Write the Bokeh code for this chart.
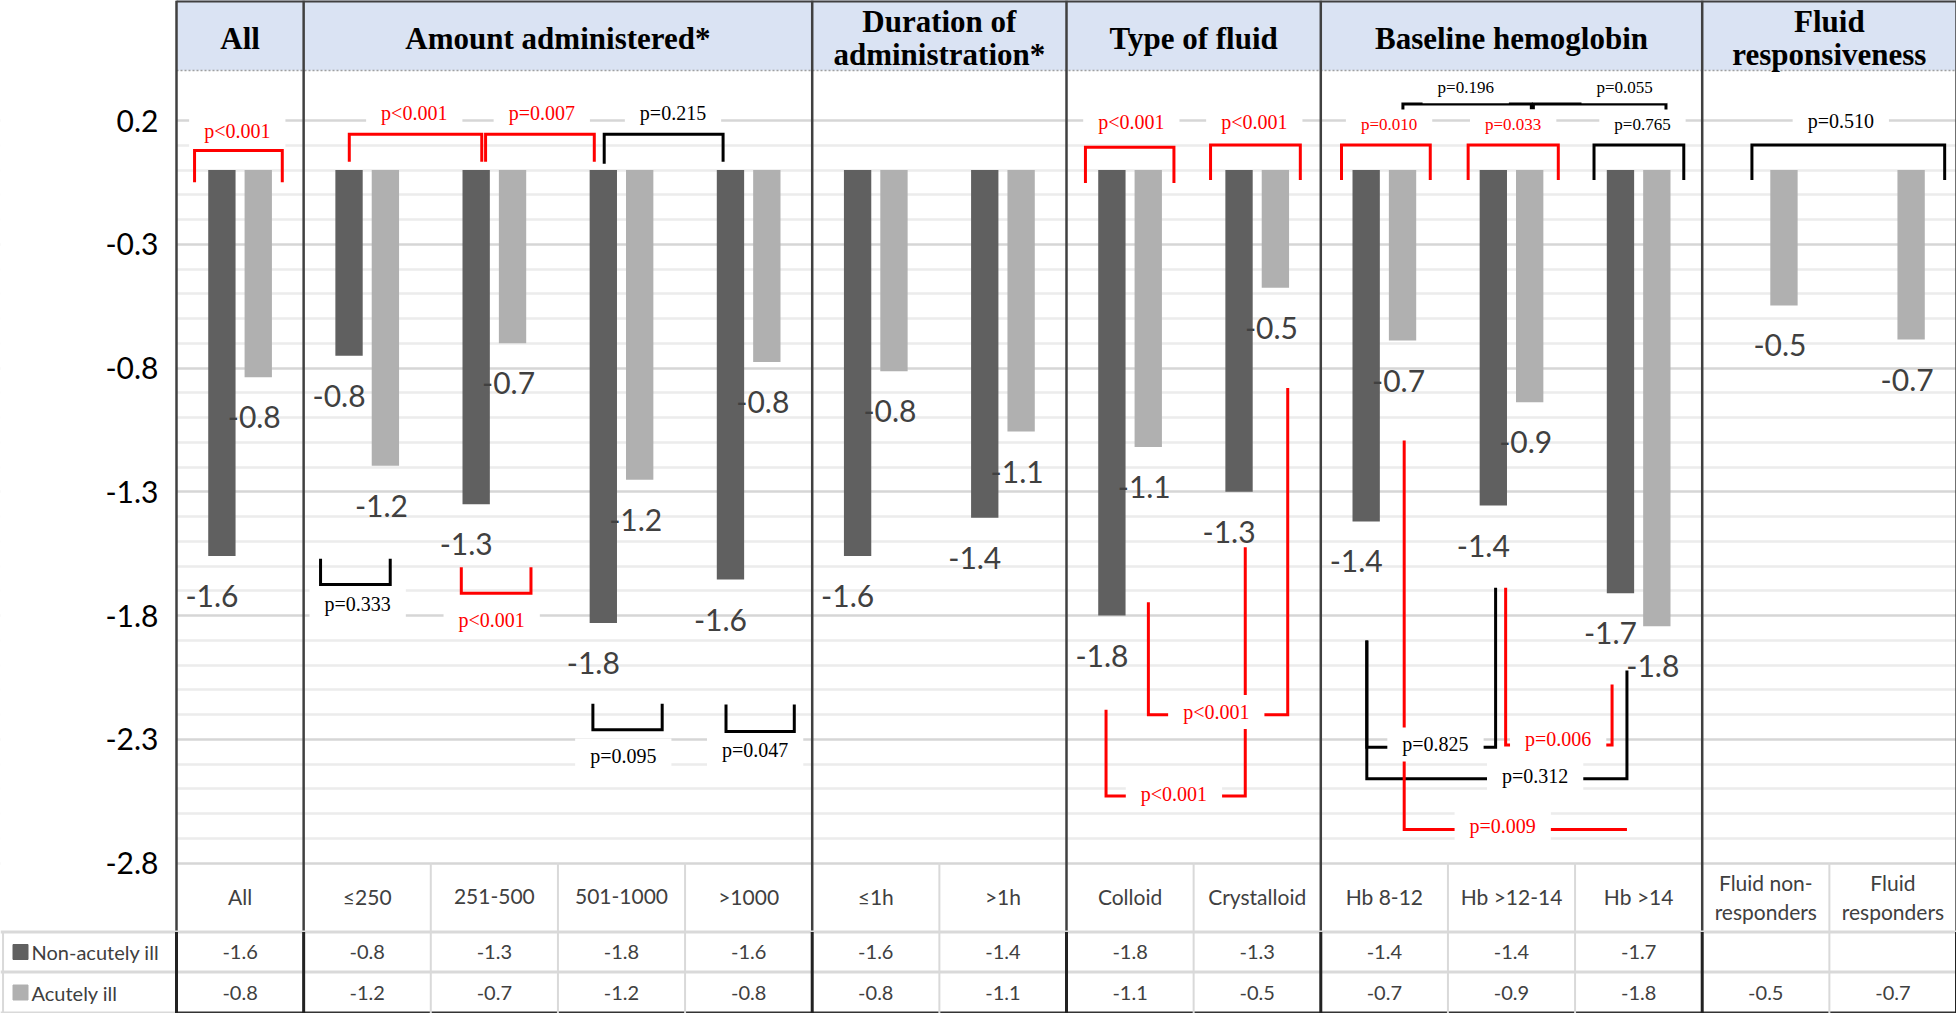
import numpy as np
from bokeh.plotting import figure
from bokeh.models import Range1d, FixedTicker, ColumnDataSource
from bokeh.embed import file_html
from bokeh.resources import INLINE
from bokeh.core.properties import value

# ---------------- data ----------------
sections = ["All", "Amount administered*", "Duration of\nadministration*", "Type of fluid",
            "Baseline hemoglobin", "Fluid\nresponsiveness"]
section_sizes = [1, 4, 2, 2, 3, 2]
categories = ["All", "≤250", "251-500", "501-1000", ">1000", "≤1h", ">1h", "Colloid", "Crystalloid",
              "Hb 8-12", "Hb >12-14", "Hb >14", "Fluid non-\nresponders", "Fluid\nresponders"]
series_names = ["Non-acutely ill", "Acutely ill"]
non_acute = [-1.56, -0.75, -1.35, -1.83, -1.655, -1.56, -1.405, -1.80, -1.30, -1.42, -1.356, -1.71, None, None]
acute = [-0.837, -1.195, -0.70, -1.252, -0.776, -0.813, -1.057, -1.119, -0.476, -0.689, -0.938, -1.843, -0.547, -0.685]
non_acute_text = ["-1.6", "-0.8", "-1.3", "-1.8", "-1.6", "-1.6", "-1.4", "-1.8", "-1.3", "-1.4", "-1.4", "-1.7", "", ""]
acute_text = ["-0.8", "-1.2", "-0.7", "-1.2", "-0.8", "-0.8", "-1.1", "-1.1", "-0.5", "-0.7", "-0.9", "-1.8", "-0.5", "-0.7"]
y_ticks = [0.2, -0.3, -0.8, -1.3, -1.8, -2.3, -2.8]
y_tick_labels = ["0.2", "-0.3", "-0.8", "-1.3", "-1.8", "-2.3", "-2.8"]

# significance brackets (x in category units, y in value units)
bracket_x = [
    [0.142, 0.142, 0.832, 0.832], [1.359, 1.359, 2.401, 2.401], [2.431, 2.431, 3.286, 3.286],
    [3.364, 3.364, 4.299, 4.299], [7.149, 7.149, 7.845, 7.845], [8.133, 8.133, 8.839, 8.839],
    [9.163, 9.163, 9.861, 9.861], [10.159, 10.159, 10.868, 10.868], [11.149, 11.149, 11.855, 11.855],
    [9.646, 9.646, 10.656, 10.656], [10.672, 10.672, 11.715, 11.715], [12.391, 12.391, 13.907, 13.907],
    [1.133, 1.133, 1.681, 1.681], [2.240, 2.240, 2.788, 2.788], [3.275, 3.275, 3.820, 3.820],
    [4.322, 4.322, 4.859, 4.859], [7.644, 7.644, 8.740, 8.740], [7.311, 7.311, 8.406, 8.406],
    [9.362, 9.362, 10.375, 10.375], [10.454, 10.454, 11.291, 11.291], [9.362, 9.362, 11.408, 11.408],
    [9.656, 9.656, 11.408],
]
bracket_y = [
    [-0.049, 0.079, 0.079, -0.049], [0.033, 0.144, 0.144, 0.033], [0.033, 0.144, 0.144, 0.033],
    [0.025, 0.144, 0.144, 0.033], [-0.053, 0.092, 0.092, -0.053], [-0.040, 0.1015, 0.1015, -0.040],
    [-0.040, 0.1015, 0.1015, -0.040], [-0.040, 0.1015, 0.1015, -0.040], [-0.040, 0.1015, 0.1015, -0.040],
    [0.236, 0.267, 0.267, 0.236], [0.236, 0.267, 0.267, 0.236], [-0.040, 0.1015, 0.1015, -0.040],
    [-1.571, -1.675, -1.675, -1.571], [-1.605, -1.710, -1.710, -1.605], [-2.157, -2.262, -2.262, -2.157],
    [-2.160, -2.269, -2.269, -2.160], [-1.746, -2.201, -2.201, -0.881], [-2.181, -2.529, -2.529, -1.524],
    [-1.901, -2.332, -2.332, -1.688], [-1.688, -2.323, -2.323, -2.079], [-1.901, -2.460, -2.460, -2.022],
    [-1.093, -2.665, -2.665],
]
bracket_color = ["red", "red", "red", "black", "red", "red", "red", "red", "black", "black", "black", "black",
                 "black", "red", "black", "black", "red", "red", "black", "red", "black", "red"]
p_text = ["p<0.001", "p<0.001", "p=0.007", "p=0.215", "p<0.001", "p<0.001", "p=0.010", "p=0.033", "p=0.765",
          "p=0.196", "p=0.055", "p=0.510", "p=0.333", "p<0.001", "p=0.095", "p=0.047", "p<0.001", "p<0.001",
          "p=0.825", "p=0.006", "p=0.312", "p=0.009"]
p_x = [0.478, 1.870, 2.873, 3.905, 7.51, 8.477, 9.537, 10.513, 11.53, 10.14, 11.39, 13.09,
       1.425, 2.479, 3.514, 4.551, 8.178, 7.845, 9.902, 10.867, 10.686, 10.431]
p_y = [0.157, 0.230, 0.230, 0.230, 0.193, 0.193, 0.182, 0.183, 0.182, 0.332, 0.332, 0.197,
       -1.753, -1.820, -2.366, -2.345, -2.19, -2.521, -2.321, -2.298, -2.449, -2.649]
p_size = ["20px"] * 6 + ["17px"] * 5 + ["20px"] * 11

# ---------------- layout constants ----------------
W = 1956
H = 1013
LEFT = 176          # pixel position of the plot's left border
Y02_PX = 120        # pixel row of the 0.2 tick
PX_Y = 247.5        # pixels per value unit
n = len(categories)
unit = (W - LEFT) / n
XL = -LEFT / unit
Y_TOP = 0.2 + Y02_PX / PX_Y
Y_BOT = 0.2 - (H - Y02_PX) / PX_Y
HEADER_BOTTOM = 0.402
CAT_BOTTOM = -3.0788
ROW_SPLIT = -3.2404
TABLE_BOTTOM = -3.4061
DARK = "#606060"
LIGHT = "#b0b0b0"
TXT = "#404040"

bounds = list(np.cumsum([0] + section_sizes))
sec_centers = [(a + b) / 2 for a, b in zip(bounds[:-1], bounds[1:])]
inner_bounds = [b for b in range(1, n) if b not in bounds]
centers = [i + 0.5 for i in range(n)]

p = figure(width=W, height=H, x_range=Range1d(XL, n), y_range=Range1d(Y_BOT, Y_TOP),
           output_backend="svg", toolbar_location=None, x_axis_location=None,
           min_border_left=0, min_border_right=0, min_border_top=0, min_border_bottom=0)
p.outline_line_color = None
p.background_fill_color = "white"
p.xgrid.visible = False

minor = [round(0.1 - 0.1 * k, 1) for k in range(29)]
minor = [m for m in minor if m not in y_ticks]
tk = FixedTicker(ticks=y_ticks, minor_ticks=minor)
ax = p.yaxis[0]
ax.ticker = tk
ax.fixed_location = 0
ax.major_label_overrides = {t: s for t, s in zip(y_ticks, y_tick_labels)}
ax.axis_line_color = None
ax.major_tick_line_color = None
ax.minor_tick_line_color = None
ax.major_tick_out = 0
ax.major_tick_in = 0
ax.major_label_standoff = 14
ax.major_label_text_font = "Lato"
ax.major_label_text_font_size = "30px"
ax.major_label_text_color = "black"

p.ygrid.ticker = tk
p.ygrid.grid_line_color = "#d6d6d6"
p.ygrid.grid_line_width = 2.5
p.ygrid.minor_grid_line_color = "#ececec"
p.ygrid.minor_grid_line_width = 2.5

# keep the grid out of the tick-label margin
p.quad(left=XL - 0.1, right=0, bottom=CAT_BOTTOM, top=Y_TOP + 0.1, fill_color="white", line_color=None)

# header band
p.quad(left=0, right=n, bottom=HEADER_BOTTOM, top=Y_TOP + 0.1, fill_color="#DAE3F3", line_color=None)
p.segment(x0=0, x1=n, y0=HEADER_BOTTOM, y1=HEADER_BOTTOM, line_color="#a0a0a0", line_width=1.5, line_dash="2 2")
p.segment(x0=0, x1=n, y0=Y_TOP, y1=Y_TOP, line_color="#404040", line_width=4)
p.text(x=sec_centers, y=[0.533] * len(sections), text=sections, text_align="center", text_baseline="middle",
       text_font=value("Liberation Serif"), text_font_style="bold", text_font_size="31px",
       text_color="black", text_line_height=0.96)

# category row separators and labels
nb = len(inner_bounds)
p.segment(x0=inner_bounds, x1=inner_bounds, y0=[CAT_BOTTOM] * nb, y1=[-2.8] * nb,
          line_color="#d9d9d9", line_width=2)
p.text(x=centers, y=[-2.937] * n, text=categories, text_align="center", text_baseline="middle",
       text_font=value("Lato"), text_font_size="21px", text_color=TXT, text_line_height=1.15)

# section dividers (plot + category row)
p.segment(x0=bounds, x1=bounds, y0=[CAT_BOTTOM] * len(bounds), y1=[Y_TOP] * len(bounds),
          line_color="#404040", line_width=2.5)

# ---------- data table rows ----------
p.segment(x0=[XL, XL, XL], x1=[n, n, 0], y0=[CAT_BOTTOM, ROW_SPLIT, TABLE_BOTTOM],
          y1=[CAT_BOTTOM, ROW_SPLIT, TABLE_BOTTOM], line_color="#d9d9d9", line_width=3)
p.segment(x0=[0], x1=[n], y0=[TABLE_BOTTOM], y1=[TABLE_BOTTOM], line_color="#333333", line_width=3)
p.segment(x0=[XL + 0.02] + inner_bounds, x1=[XL + 0.02] + inner_bounds, y0=[TABLE_BOTTOM] * (nb + 1),
          y1=[CAT_BOTTOM] * (nb + 1), line_color="#d9d9d9", line_width=2)
p.segment(x0=bounds, x1=bounds, y0=[TABLE_BOTTOM] * len(bounds), y1=[CAT_BOTTOM] * len(bounds),
          line_color="#222222", line_width=3)
row_y = [(CAT_BOTTOM + ROW_SPLIT) / 2, (ROW_SPLIT + TABLE_BOTTOM) / 2]
p.scatter(x=[XL + 20 / unit] * 2, y=row_y, marker="square", size=15, color=[DARK, LIGHT])
p.text(x=[XL + 31 / unit] * 2, y=row_y, text=series_names, text_align="left", text_baseline="middle",
       text_font=value("Lato"), text_font_size="20px", text_color=TXT)
p.text(x=centers, y=[row_y[0]] * n, text=non_acute_text, text_align="center", text_baseline="middle",
       text_font=value("Lato"), text_font_size="20px", text_color=TXT)
p.text(x=centers, y=[row_y[1]] * n, text=acute_text, text_align="center", text_baseline="middle",
       text_font=value("Lato"), text_font_size="20px", text_color=TXT)

# ---------- bars ----------
dark = ColumnDataSource(dict(x=[c - 0.143 for c, v in zip(centers, non_acute) if v is not None],
                             v=[v for v in non_acute if v is not None],
                             t=[t for t, v in zip(non_acute_text, non_acute) if v is not None]))
light = ColumnDataSource(dict(x=[c + 0.143 for c in centers], v=acute, t=acute_text))
p.vbar(x="x", top=0, bottom="v", width=0.215, source=dark, fill_color=DARK, line_color=None)
p.vbar(x="x", top=0, bottom="v", width=0.215, source=light, fill_color=LIGHT, line_color=None)

# brackets
p.multi_line(xs=bracket_x, ys=bracket_y, line_color=bracket_color, line_width=3, line_join="miter")

# value labels
p.text(x="x", y="v", text="t", source=dark, x_offset=-10, y_offset=40, text_align="center",
       text_baseline="middle", text_font=value("Lato"), text_font_size="30px", text_color=TXT)
p.text(x="x", y="v", text="t", source=light, x_offset=-4, y_offset=40, text_align="center",
       text_baseline="middle", text_font=value("Lato"), text_font_size="30px", text_color=TXT)

# p-value labels
psrc = ColumnDataSource(dict(x=p_x, y=p_y, t=p_text, c=bracket_color, s=p_size))
p.text(x="x", y="y", text="t", source=psrc, text_color="c", text_font_size="s",
       text_align="center", text_baseline="middle", text_font=value("Liberation Serif"),
       background_fill_color="white", padding=dict(x=15, y=6))

open("out.html", "w").write(file_html(p, INLINE))
